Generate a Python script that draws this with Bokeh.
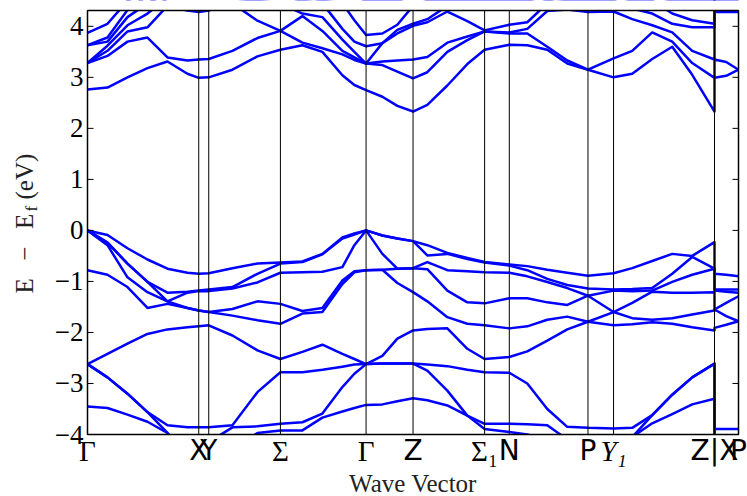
import math
from bokeh.plotting import figure
from bokeh.models import Range1d
from bokeh.core.properties import value
from bokeh.embed import file_html
from bokeh.resources import INLINE

# ---------------- data ----------------
# high-symmetry points along the path (k distance, arbitrary units)
kpoint_labels = ["Γ", "X", "Y", "Σ", "Γ", "Z", "Σ₁", "N", "P", "Y₁", "Z|X", "P"]
kpoint_pos = [0.0, 1.113, 1.213, 1.930, 2.787, 3.257, 3.973, 4.220, 5.007, 5.263, 6.273, 6.513]
kpoint_style = ["serif", "sans", "sans", "serif", "serif", "sans", "serif", "sans", "sans", "serif-italic", "sans", "sans"]

# k grid on which the bands are sampled (Z and X share 6.273: discontinuity)
k = [0.00, 0.20, 0.40, 0.60, 0.80, 1.00, 1.113, 1.213, 1.45, 1.70, 1.93,
     2.15, 2.35, 2.55, 2.67, 2.787, 2.95, 3.10, 3.257, 3.40, 3.60, 3.80, 3.973,
     4.22, 4.40, 4.60, 4.80, 5.007, 5.263, 5.45, 5.65, 5.85, 6.05, 6.273,
     6.273, 6.39, 6.513]

# valence bands (eV), ordered from the highest
vb1 = [0.00, -0.09, -0.35, -0.57, -0.75, -0.83, -0.85, -0.84, -0.74, -0.65, -0.63,
       -0.61, -0.46, -0.14, -0.06, 0.00, -0.10, -0.16, -0.21, -0.29, -0.44, -0.54, -0.62,
       -0.67, -0.70, -0.77, -0.83, -0.89, -0.84, -0.74, -0.60, -0.46, -0.50, -0.23,
       -0.85, -0.87, -0.90]
vb2 = [0.00, -0.24, -0.65, -1.01, -1.22, -1.20, -1.18, -1.16, -1.11, -0.85, -0.65,
       -0.62, -0.47, -0.16, -0.08, 0.00, -0.10, -0.16, -0.21, -0.49, -0.46, -0.56, -0.63,
       -0.69, -0.78, -0.95, -1.07, -1.14, -1.16, -1.15, -1.13, -0.85, -0.52, -0.75,
       -1.16, -1.16, -1.16]
vb3 = [0.00, -0.24, -0.65, -1.01, -1.39, -1.22, -1.19, -1.19, -1.14, -1.02, -0.83,
       -0.82, -0.81, -0.72, -0.29, 0.00, -0.46, -0.75, -0.74, -0.62, -0.78, -0.80, -0.82,
       -0.83, -0.90, -1.01, -1.13, -1.28, -1.18, -1.19, -1.18, -1.01, -0.87, -0.75,
       -1.18, -1.20, -1.22]
vb4 = [0.00, -0.29, -0.92, -1.21, -1.39, -1.52, -1.57, -1.60, -1.54, -1.39, -1.44,
       -1.58, -1.52, -0.98, -0.80, -0.78, -0.77, -0.75, -0.74, -0.76, -1.18, -1.41, -1.43,
       -1.33, -1.33, -1.41, -1.46, -1.28, -1.60, -1.42, -1.20, -1.22, -1.22, -1.21,
       -1.55, -1.42, -1.29]
vb5 = [-0.78, -0.87, -1.11, -1.52, -1.44, -1.52, -1.57, -1.60, -1.67, -1.76, -1.83,
       -1.63, -1.60, -1.05, -0.82, -0.78, -0.77, -1.03, -1.21, -1.39, -1.70, -1.83, -1.86,
       -1.92, -1.88, -1.75, -1.69, -1.79, -1.60, -1.72, -1.75, -1.72, -1.65, -1.57,
       -1.55, -1.68, -1.78]
vb6 = [-2.62, -2.42, -2.22, -2.03, -1.94, -1.90, -1.88, -1.86, -2.06, -2.35, -2.52,
       -2.38, -2.24, -2.42, -2.52, -2.62, -2.46, -2.12, -1.96, -1.93, -1.92, -2.32, -2.52,
       -2.48, -2.37, -2.16, -1.94, -1.79, -1.86, -1.84, -1.80, -1.83, -1.90, -1.96,
       -1.91, -1.85, -1.78]
vb7 = [-2.62, -2.88, -3.20, -3.56, -3.82, -3.86, -3.86, -3.86, -3.82, -3.17, -2.78,
       -2.78, -2.73, -2.67, -2.63, -2.62, -2.61, -2.61, -2.61, -2.63, -2.66, -2.73, -2.78,
       -2.79, -3.00, -3.50, -3.85, -3.87, -3.88, -3.87, -3.62, -3.22, -2.88, -2.61,
       -3.89, -3.89, -3.89]
vb8 = [-2.62, -2.88, -3.20, -3.56, -3.97, -4.40, -4.35, -4.15, -3.86, -3.84, -3.79,
       -3.76, -3.59, -3.07, -2.81, -2.62, -2.61, -2.61, -2.61, -2.75, -3.14, -3.63, -3.79,
       -3.79, -3.80, -3.82, -4.10, -4.20, -4.20, -4.05, -3.62, -3.22, -2.88, -2.61,
       -4.40, -4.40, -4.40]
vb9 = [-3.45, -3.48, -3.61, -3.75, -3.97, -4.40, -4.60, -4.50, -4.30, -3.97, -3.92,
       -3.92, -3.67, -3.55, -3.48, -3.42, -3.41, -3.35, -3.29, -3.33, -3.43, -3.63, -3.89,
       -3.95, -4.00, -4.10, -4.20, -4.30, -4.40, -4.05, -3.78, -3.60, -3.41, -3.30,
       -4.50, -4.50, -4.50]

# conduction bands (eV), ordered from the lowest
cb1 = [2.76, 2.80, 3.00, 3.18, 3.31, 3.07, 2.99, 3.00, 3.15, 3.41, 3.54,
       3.63, 3.50, 3.04, 2.85, 2.75, 2.62, 2.44, 2.33, 2.46, 2.84, 3.26, 3.54,
       3.64, 3.63, 3.54, 3.27, 3.15, 3.00, 3.07, 3.36, 3.60, 3.05, 2.33,
       2.99, 3.03, 3.15]
cb2 = [3.28, 3.42, 3.70, 3.78, 3.39, 3.33, 3.35, 3.36, 3.52, 3.77, 3.91,
       3.68, 3.57, 3.45, 3.34, 3.27, 3.24, 3.11, 2.98, 3.10, 3.50, 3.73, 3.90,
       3.86, 3.86, 3.60, 3.33, 3.15, 3.37, 3.52, 3.88, 3.70, 3.28, 2.99,
       3.35, 3.30, 3.15]
cb3 = [3.28, 3.52, 3.90, 3.98, 4.40, 4.31, 4.28, 4.31, 4.45, 4.11, 3.91,
       4.20, 3.91, 3.52, 3.39, 3.27, 3.31, 3.33, 3.35, 3.40, 3.68, 3.80, 3.90,
       3.88, 3.95, 4.30, 4.33, 4.28, 4.29, 4.14, 4.02, 3.88, 3.52, 3.35,
       4.28, 4.28, 4.28]
cb4 = [3.28, 3.62, 4.02, 4.25, 4.55, 4.55, 4.55, 4.55, 4.55, 4.50, 4.45,
       4.25, 4.18, 3.74, 3.50, 3.27, 3.67, 3.86, 4.01, 4.08, 4.29, 4.10, 3.92,
       4.03, 4.08, 4.45, 4.50, 4.50, 4.50, 4.35, 4.25, 4.05, 3.98, 3.98,
       4.50, 4.50, 4.50]
cb5 = [3.63, 3.70, 4.18, 4.45, 4.65, 4.65, 4.65, 4.65, 4.65, 4.65, 4.60,
       4.50, 4.45, 3.95, 3.70, 3.61, 3.67, 3.93, 4.05, 4.14, 4.40, 4.40, 4.40,
       4.40, 4.40, 4.50, 4.60, 4.60, 4.60, 4.50, 4.50, 4.25, 4.12, 4.05,
       4.60, 4.60, 4.60]
cb6 = [3.63, 3.78, 4.32, 4.60, 4.75, 4.75, 4.75, 4.75, 4.75, 4.75, 4.70,
       4.60, 4.50, 4.45, 4.12, 3.83, 3.86, 4.03, 4.40, 4.50, 4.50, 4.50, 4.50,
       4.50, 4.50, 4.60, 4.70, 4.70, 4.70, 4.60, 4.60, 4.50, 4.50, 4.50,
       4.70, 4.70, 4.70]
cb7 = [3.87, 4.05, 4.50, 4.70, 4.85, 4.85, 4.85, 4.85, 4.85, 4.85, 4.80,
       4.80, 4.70, 4.60, 4.60, 4.50, 4.50, 4.50, 4.60, 4.70, 4.70, 4.70, 4.70,
       4.70, 4.70, 4.70, 4.80, 4.80, 4.80, 4.70, 4.70, 4.70, 4.70, 4.70,
       4.80, 4.80, 4.80]

y_ticks = [-4, -3, -2, -1, 0, 1, 2, 3, 4]
y_tick_labels = ["−4", "−3", "−2", "−1", "0", "1", "2", "3", "4"]

# ---------------- layout constants (canvas pixels) ----------------
E_MIN, E_MAX = -4.0, 4.31
K_MAX = kpoint_pos[-1]
W, H = 747, 496
BOX_L, BOX_R, BOX_T, BOX_B = 87, 738, 10, 434     # the axes box inside the canvas
px_per_k = (BOX_R - BOX_L) / K_MAX
px_per_e = (BOX_B - BOX_T) / (E_MAX - E_MIN)


def kx(px):            # canvas x pixel -> k
    return (px - BOX_L) / px_per_k


def ey(py):            # canvas y pixel -> energy
    return E_MAX - (py - BOX_T) / px_per_e


SERIF = "Liberation Serif"
SANS = "DejaVu Sans"
LABEL_GREY = "#222222"

# the frame covers the whole canvas; the axes box is drawn by hand
p = figure(width=W, height=H, x_range=Range1d(kx(0), kx(W)), y_range=Range1d(ey(H), ey(0)),
           output_backend="svg", toolbar_location=None,
           x_axis_location=None, y_axis_location=None,
           min_border_left=0, min_border_right=0, min_border_top=0, min_border_bottom=0)
p.grid.visible = False
p.outline_line_color = None
p.background_fill_color = "white"
p.border_fill_color = "white"

# bands
for band in [vb1, vb2, vb3, vb4, vb5, vb6, vb7, vb8, vb9,
             cb1, cb2, cb3, cb4, cb5, cb6, cb7]:
    p.line(k, band, line_color="#0000ff", line_width=2.5, line_join="round")

# white masks: everything outside the energy window is hidden (acts as clipping)
p.quad(left=[kx(0)], right=[kx(W)], bottom=[E_MAX], top=[ey(0)],
       fill_color="white", line_color=None)
p.quad(left=[kx(0)], right=[kx(W)], bottom=[ey(H)], top=[E_MIN],
       fill_color="white", line_color=None)

# high-symmetry vertical lines
inner = kpoint_pos[1:-1]
p.segment(x0=inner, y0=[E_MIN] * len(inner), x1=inner, y1=[E_MAX] * len(inner),
          line_color="black", line_width=1)

# axes box
p.quad(left=[0], right=[K_MAX], bottom=[E_MIN], top=[E_MAX],
       fill_color=None, line_color="black", line_width=1.5)

# inward y ticks on both sides
tick_k = 6 / px_per_k
n = len(y_ticks)
p.segment(x0=[0] * n, y0=y_ticks, x1=[tick_k] * n, y1=y_ticks, line_color="black", line_width=1)
p.segment(x0=[K_MAX] * n, y0=y_ticks, x1=[K_MAX - tick_k] * n, y1=y_ticks,
          line_color="black", line_width=1)

# y tick labels
p.text(x=[kx(83)] * n, y=y_ticks, text=y_tick_labels, text_align="right",
       text_baseline="middle", text_font=value(SERIF), text_font_size=value("27px"),
       text_color="black")

# k-point labels (baseline shifted to compensate the renderer's offset)
styles = {"serif": (SERIF, "normal", "29px"),
          "sans": (SANS, "normal", "28px"),
          "serif-italic": (SERIF, "italic", "29px")}
for sty, (font, fstyle, fsize) in styles.items():
    xs = [pos for pos, s in zip(kpoint_pos, kpoint_style) if s == sty]
    ts = [lab for lab, s in zip(kpoint_labels, kpoint_style) if s == sty]
    p.text(x=xs, y=[ey(450)] * len(xs), text=ts, text_align="center",
           text_baseline="alphabetic", text_font=value(font),
           text_font_style=value(fstyle), text_font_size=value(fsize),
           text_color="black")

# axis titles
p.text(x=[K_MAX / 2], y=[ey(483)], text=["Wave Vector"], text_align="center",
       text_baseline="alphabetic", text_font=value(SERIF),
       text_font_size=value("25px"), text_color=LABEL_GREY)
p.text(x=[kx(24)], y=[ey(293)], text=["E\u2002\u2009−\u2009\u2002E"], angle=math.pi / 2,
       text_align="left", text_baseline="alphabetic", text_font=value(SERIF),
       text_font_size=value("25px"), text_color=LABEL_GREY)
p.text(x=[kx(31)], y=[ey(211)], text=["f"], angle=math.pi / 2,
       text_align="left", text_baseline="alphabetic", text_font=value(SERIF),
       text_font_size=value("17px"), text_color=LABEL_GREY)
p.text(x=[kx(24)], y=[ey(199)], text=["(eV)"], angle=math.pi / 2,
       text_align="left", text_baseline="alphabetic", text_font=value(SERIF),
       text_font_size=value("25px"), text_color=LABEL_GREY)

open("out.html", "w").write(file_html(p, INLINE))
